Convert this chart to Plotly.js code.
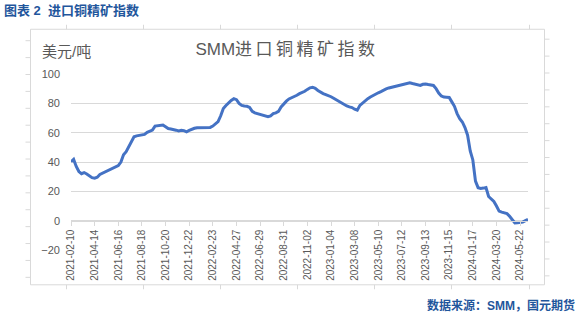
<!DOCTYPE html>
<html>
<head>
<meta charset="utf-8">
<script src="https://cdn.plot.ly/plotly-3.0.1.min.js"></script>
<style>
  html, body { margin: 0; padding: 0; background: #fff; }
  #chart { width: 579px; height: 316px; }
</style>
</head>
<body>
<div id="chart"></div>
<script>
// ---- data (weekly, starting 2021-02-10) ----
const startDate = "2021-02-10";
const indexValues = [
  40.2, 41.8, 37.0, 33.5, 32.0, 32.8, 31.8, 30.5, 29.3, 29.0,
  29.6, 31.5, 32.3, 33.0, 34.1, 34.8, 35.5, 36.3, 37.5, 40.0,
  45.0, 47.0, 50.5, 54.5, 57.2, 57.8, 58.0, 58.4, 58.8, 60.2,
  61.0, 61.7, 64.5, 64.8, 65.0, 65.2, 64.0, 62.8, 62.5, 62.3,
  61.7, 61.2, 61.6, 61.4, 60.6, 61.5, 62.5, 63.0, 63.4, 63.5,
  63.5, 63.5, 63.5, 63.6, 64.5, 66.0, 67.5, 71.5, 76.5, 78.5,
  80.5, 82.0, 83.2, 82.5, 80.0, 78.6, 78.2, 78.0, 77.2, 74.5,
  73.5, 73.0, 72.0, 71.8, 71.4, 70.9, 71.5, 73.0, 73.5, 74.5,
  77.5, 79.8, 81.5, 83.0, 83.8, 84.3, 85.5, 86.6, 87.2, 88.2,
  89.5, 90.6, 91.0, 90.2, 88.8, 87.6, 86.6, 86.0, 85.4, 84.5,
  83.5, 82.5, 81.3, 80.2, 79.0, 78.2, 77.6, 77.1, 76.0, 75.3,
  78.6, 80.3, 82.0, 83.2, 84.3, 85.4, 86.1, 87.2, 88.0, 89.2,
  89.8, 90.5, 91.0, 91.5, 91.8, 92.2, 92.8, 93.4, 93.8, 94.0,
  93.5, 92.9, 92.4, 92.2, 93.0, 93.2, 92.8, 92.6, 92.2, 90.0,
  87.0, 85.0, 84.3, 84.2, 84.0, 81.0, 78.0, 73.0, 69.6, 67.3,
  63.5, 58.3, 47.5, 41.4, 27.0, 22.5, 22.0, 22.2, 22.6, 16.5,
  14.8, 13.1, 10.0, 6.5, 5.8, 5.4, 4.8, 3.0, 0.5, -1.6,
  -1.4, -1.2, -1.0, 0.0, 0.8
];
const tickLabels = [
  "2021-02-10", "2021-04-14", "2021-06-16", "2021-08-18", "2021-10-20",
  "2021-12-22", "2022-02-23", "2022-04-27", "2022-06-29", "2022-08-31",
  "2022-11-02", "2023-01-04", "2023-03-08", "2023-05-10", "2023-07-12",
  "2023-09-13", "2023-11-15", "2024-01-17", "2024-03-20", "2024-05-22"
];
const yTicks = [-20, 0, 20, 40, 60, 80, 100];

// weekly category dates
function weeklyDates(start, n) {
  const out = [];
  const t0 = Date.parse(start + "T00:00:00Z");
  for (let i = 0; i < n; i++) {
    out.push(new Date(t0 + i * 7 * 86400000).toISOString().slice(0, 10));
  }
  return out;
}
const dates = weeklyDates(startDate, indexValues.length);

// ---- layout geometry ----
const W = 579, H = 316;
const M = { l: 71, r: 51, t: 73.5, b: 65.5 };
const plotW = W - M.l - M.r, plotH = H - M.t - M.b;
const xp = px => (px - M.l) / plotW;
const yp = py => (H - M.b - py) / plotH;

const FONT = "Liberation Sans, Arial, 'Noto Sans CJK SC', sans-serif";
const GRAY = "#595959";
const GRID = "#d9d9d9";
const BLUE = "#1f569c";

// decorative outer frame with marks
const shapes = [{
  type: "rect", xref: "paper", yref: "paper",
  x0: xp(30.5), x1: xp(544.5), y0: yp(285.5), y1: yp(28.5),
  line: { color: GRID, width: 1 }, fillcolor: "rgba(0,0,0,0)", layer: "below"
}];
const hMarks = [66, 143, 220, 297, 374, 451, 529];
hMarks.forEach(px => {
  shapes.push({ type: "line", xref: "paper", yref: "paper",
    x0: xp(px + 0.5), x1: xp(px + 0.5), y0: yp(24), y1: yp(28.5),
    line: { color: GRID, width: 1 } });
  shapes.push({ type: "line", xref: "paper", yref: "paper",
    x0: xp(px + 0.5), x1: xp(px + 0.5), y0: yp(285.5), y1: yp(290),
    line: { color: GRID, width: 1 } });
});
for (let k = 0; k < 15; k++) {
  const py = 38.5 + k * 17;
  shapes.push({ type: "line", xref: "paper", yref: "paper",
    x0: xp(25.5), x1: xp(30.5), y0: yp(py + 1.5), y1: yp(py + 1.5),
    line: { color: GRID, width: 1 } });
  shapes.push({ type: "line", xref: "paper", yref: "paper",
    x0: xp(544.5), x1: xp(549.5), y0: yp(py), y1: yp(py),
    line: { color: GRID, width: 1 } });
}

const trace = {
  x: dates, y: indexValues, type: "scatter", mode: "lines",
  line: { color: "#4472c4", width: 3 }, hoverinfo: "skip"
};

const layout = {
  width: W, height: H,
  margin: M,
  paper_bgcolor: "#ffffff", plot_bgcolor: "rgba(0,0,0,0)",
  showlegend: false,
  font: { family: FONT, color: GRAY },
  title: {
    text: "SMM进口铜精矿指数",
    font: { family: FONT, size: 17, color: GRAY },
    x: 287 / W, xanchor: "center", xref: "container",
    y: 1 - 49 / H, yanchor: "middle", yref: "container"
  },
  xaxis: {
    type: "date",
    range: [dates[0], dates[dates.length - 1]],
    anchor: "free", position: (0 - (-20)) / 120,
    tickmode: "array", tickvals: tickLabels, ticktext: tickLabels,
    tickangle: -90,
    tickfont: { family: FONT, size: 10, color: GRAY },
    ticks: "outside", ticklen: 4, tickcolor: GRID, tickwidth: 1,
    showline: true, linecolor: GRID, linewidth: 1,
    showgrid: false, zeroline: false
  },
  yaxis: {
    range: [-20, 100],
    tickmode: "array", tickvals: yTicks,
    tickfont: { family: FONT, size: 11, color: GRAY },
    ticks: "", ticklabelstandoff: 10,
    showgrid: true, gridcolor: GRID, gridwidth: 1,
    zeroline: false, showline: false
  },
  shapes: shapes,
  annotations: [
    { text: "美元/吨", xref: "paper", yref: "paper",
      x: xp(40), y: yp(51), xanchor: "left", yanchor: "middle",
      showarrow: false, font: { family: FONT, size: 15, color: GRAY } },
    { text: "<b>图表 2  进口铜精矿指数</b>", xref: "paper", yref: "paper",
      x: xp(2), y: yp(9.5), xanchor: "left", yanchor: "middle",
      showarrow: false, font: { family: FONT, size: 13, color: BLUE } },
    { text: "<b>数据来源：SMM，国元期货</b>", xref: "paper", yref: "paper",
      x: xp(577), y: yp(306.5), xanchor: "right", yanchor: "middle",
      showarrow: false, font: { family: FONT, size: 12, color: BLUE } }
  ]
};

Plotly.newPlot("chart", [trace], layout, { staticPlot: true, displayModeBar: false }).then(() => {
  // widen CJK character spacing of the chart title, as in the reference
  const t = document.querySelector(".gtitle");
  if (t) {
    const txt = t.textContent;
    const latin = txt.slice(0, 3), cjk = txt.slice(3);
    while (t.firstChild) t.removeChild(t.firstChild);
    const ns = "http://www.w3.org/2000/svg";
    const a = document.createElementNS(ns, "tspan");
    a.textContent = latin;
    const b = document.createElementNS(ns, "tspan");
    b.textContent = cjk;
    b.setAttribute("style", "letter-spacing: 3.5px");
    t.appendChild(a); t.appendChild(b);
  }
});
</script>
</body>
</html>
